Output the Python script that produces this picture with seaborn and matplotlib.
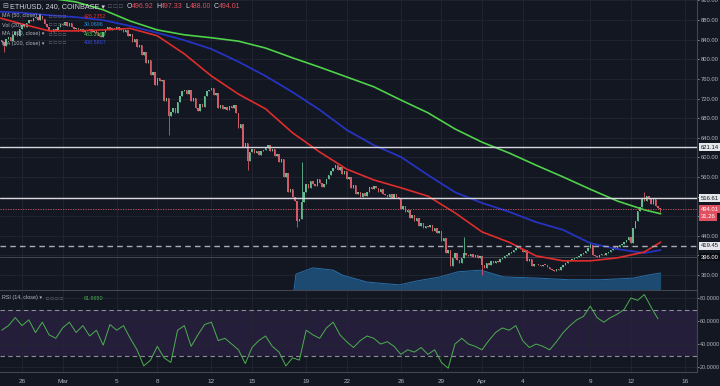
import numpy as np
import pandas as pd
import seaborn as sns
import matplotlib.pyplot as plt
from matplotlib.transforms import blended_transform_factory

# ---- data (4h candles, ETH/USD Coinbase) ----
first_open = 840
closes = [
    835, 828, 842,                                    # Feb 24 pm
    845, 838, 850, 855, 848, 862,                     # Feb 25
    870, 866, 875, 880, 878, 884,                     # Feb 26
    886, 880, 888, 882, 872, 866,                     # Feb 27
    860, 856, 862, 858, 866, 872,                     # Feb 28
    870, 876, 868, 874, 866, 862,                     # Mar 1
    864, 858, 862, 856, 860, 858,                     # Mar 2
    862, 856, 860, 854, 848, 845,                     # Mar 3
    855, 862, 866, 860, 864, 862,                     # Mar 4
    866, 860, 864, 856, 860, 848,                     # Mar 5
    852, 836, 842, 825, 830, 808,                     # Mar 6
    814, 792, 798, 768, 775, 748,                     # Mar 7
    762, 755, 758, 715, 722, 685,                     # Mar 8
    692, 700, 690, 712, 725, 735,                     # Mar 9
    738, 730, 738, 715, 722, 700,                     # Mar 10
    695, 708, 702, 725, 735, 738,                     # Mar 11
    742, 728, 732, 700, 706, 698,                     # Mar 12
    703, 696, 705, 700, 706, 690,                     # Mar 13
    660, 668, 622, 630, 592, 610,                     # Mar 14
    618, 608, 614, 604, 612, 615,                     # Mar 15
    620, 625, 612, 618, 602, 606,                     # Mar 16
    590, 596, 560, 568, 530, 536,                     # Mar 17
    520, 512, 470, 475, 510, 530,                     # Mar 18
    545, 538, 552, 546, 542, 555,                     # Mar 19
    548, 540, 545, 556, 565, 572,                     # Mar 20
    578, 585, 574, 580, 566, 572,                     # Mar 21
    556, 560, 538, 544, 525, 530,                     # Mar 22
    520, 528, 522, 530, 540, 536,                     # Mar 23
    542, 538, 530, 536, 526, 524,                     # Mar 24
    520, 526, 518, 525, 520, 516,                     # Mar 25
    495, 500, 488, 492, 476, 482,                     # Mar 26
    470, 476, 460, 466, 455, 460,                     # Mar 27
    458, 462, 450, 455, 446, 450,                     # Mar 28
    430, 436, 405, 412, 378, 395,                     # Mar 29
    405, 390, 385, 395, 405, 400,                     # Mar 30
    398, 402, 396, 400, 395, 398,                     # Mar 31
    380, 375, 385, 380, 388, 384,                     # Apr 1
    388, 386, 392, 395, 398, 400,                     # Apr 2
    404, 408, 412, 415, 418, 414,                     # Apr 3
    408, 412, 388, 392, 378, 382,                     # Apr 4
    382, 380, 378, 381, 380, 376,                     # Apr 5
    372, 370, 368, 372, 370, 376,                     # Apr 6
    380, 384, 388, 390, 392, 395,                     # Apr 7
    397, 398, 402, 405, 410, 415,                     # Apr 8
    422, 400, 398, 396, 400, 402,                     # Apr 9
    401, 405, 408, 412, 415, 414,                     # Apr 10
    418, 421, 424, 427, 432, 438,                     # Apr 11
    425, 455, 470, 490, 498, 515,                     # Apr 12
    512, 522, 516, 505, 515, 500,                     # Apr 13
    496.92, 494.01,                                   # Apr 14
]
# notable wicks: candle index -> (high, low)
wicks = {1: (835, 815), 74: (722, 646), 109: (630, 574), 131: (512, 458),
         133: (590, 475), 205: (438, 395), 213: (398, 360), 261: (428, 415),
         285: (529, 512), 292: (497.33, 488.00)}

# moving averages (day 0 = Feb 26)
ma_days = [-1.6, 0, 2, 4, 6, 8, 10, 12, 14, 16, 18, 20, 22, 24, 26, 28, 30,
           32, 34, 36, 38, 40, 42, 44, 46, 47.2]
ma50 = [884, 872, 858, 858, 860, 863, 848, 811, 766, 729, 699, 650, 611, 576,
        554, 538, 521, 487, 448, 427, 399, 389, 389, 395, 407, 427]
ma100 = [897, 895, 890, 886, 880, 868, 854, 839, 821, 795, 766, 733, 697, 656,
         625, 601, 564, 529, 507, 489, 468, 452, 425, 413, 405, 411]
ma200 = [960, 936, 925, 917, 901, 878, 860, 850, 844, 837, 823, 803, 784, 764,
         744, 717, 691, 658, 631, 609, 584, 560, 535, 511, 493, 485]

# volume MA(20) area
vol_days = [20.1, 20.25, 21.5, 23.0, 23.7, 25.5, 27.9, 29.2, 30.9, 32.2, 33.9,
            35.6, 38.1, 40.5, 42.7, 45.2, 46.2, 47.2]
vol_ma = [0, 28, 39, 35, 26, 14, 9, 16, 23, 32, 35, 23, 21, 18, 18, 21, 26, 30]

# RSI (14, close), read every 12h from Feb 24 12:00
rsi_vals = [52, 56, 63, 56, 61, 50, 59, 48, 45, 54, 59, 50, 56, 47, 52, 39,
            57, 52, 56, 45, 35, 21, 26, 38, 28, 24, 52, 56, 38, 48, 57, 59,
            43, 45, 40, 35, 23, 37, 43, 47, 38, 33, 21, 28, 26, 52, 48, 45,
            54, 59, 48, 42, 37, 43, 47, 45, 40, 42, 38, 31, 35, 33, 37, 31,
            35, 24, 19, 40, 45, 40, 38, 35, 43, 50, 54, 52, 56, 43, 37, 40,
            38, 35, 42, 50, 56, 61, 64, 73, 63, 59, 63, 66, 70, 80, 78, 83,
            72, 61.97]

tick_days = [0, 3, 7, 10, 14, 17, 21, 24, 28, 31, 34, 37, 42, 45, 49]
tick_labels = ['26', 'Mar', '5', '8', '12', '15', '19', '22', '26', '29',
               'Apr', '4', '9', '12', '16']

hlines = [(621.14, 'solid'), (516.61, 'solid'), (419.45, 'dashed'), (396.00, 'thin')]

# ---- style ----
BG = '#131722'
GRID = '#232632'
TXT = '#b2b5be'
UP = '#63bb8f'
DOWN = '#d35a67'
FS_AX = 4.2

sns.set_theme(style="dark")
plt.rcParams['font.family'] = ['Liberation Sans', 'DejaVu Sans']
plt.rcParams['axes.facecolor'] = BG
plt.rcParams['figure.facecolor'] = BG

fig = plt.figure(figsize=(7.2, 3.86), dpi=100)
ax = fig.add_axes([0, 1 - 290 / 386, 697 / 720, 290 / 386])
ax_rsi = fig.add_axes([0, 1 - 372 / 386, 697 / 720, 81 / 386], sharex=ax)

n = len(closes)
t = -1.5 + np.arange(n) / 6.0
c = np.array(closes, dtype=float)
o = np.concatenate([[first_open], c[:-1]])
hi = np.maximum(o, c)
lo = np.minimum(o, c)
for i, (h, l) in wicks.items():
    hi[i], lo[i] = h, l
col = np.where(c >= o, UP, DOWN)

# volume area on its own scale
ax_vol = ax.twinx()
ax_vol.fill_between(vol_days, 0, vol_ma, color='#1c4a70', lw=0)
ax_vol.plot(vol_days, vol_ma, color='#2a6fa8', lw=0.7)
ax_vol.set_ylim(0, 511)
ax_vol.set_yticks([])
ax_vol.set_facecolor(BG)
for s in ax_vol.spines.values():
    s.set_visible(False)
ax.set_zorder(ax_vol.get_zorder() + 1)
ax.patch.set_visible(False)

# grid
price_ticks = np.arange(360, 921, 40)
for p in price_ticks:
    ax_vol.axhline((p - 329.5) / (921 - 329.5) * 511, color=GRID, lw=0.6, zorder=0)
for d in tick_days:
    ax_vol.axvline(d, color=GRID, lw=0.6, zorder=0)

# candles
body = np.where(np.abs(c - o) < 1.2, 1.2, c - o)
ax.vlines(t, lo, hi, colors=col, lw=0.6, zorder=3)
ax.bar(t, body, bottom=o, width=0.11, color=col, lw=0, zorder=3)

# moving averages
ma_df = pd.DataFrame({'day': ma_days, 'ma50': ma50, 'ma100': ma100, 'ma200': ma200})
sns.lineplot(data=ma_df, x='day', y='ma200', ax=ax, color='#4fd14a', lw=1.2, zorder=4)
sns.lineplot(data=ma_df, x='day', y='ma100', ax=ax, color='#2533c0', lw=1.3, zorder=4)
sns.lineplot(data=ma_df, x='day', y='ma50', ax=ax, color='#df2d2b', lw=1.2, zorder=4)

# horizontal levels
for lvl, kind in hlines:
    if kind == 'solid':
        ax.axhline(lvl, color='#d6d8de', lw=1.0, zorder=5)
    elif kind == 'dashed':
        ax.axhline(lvl, color='#a9acb5', lw=1.0, ls=(0, (4, 3)), zorder=5)
    else:
        ax.axhline(lvl, color='#4a4d58', lw=0.6, zorder=2)
ax.axhline(c[-1], color=DOWN, lw=0.6, ls=(0, (1.5, 1.5)), zorder=5)

ax.set_ylim(329.5, 921)
ax.set_xlim(-22 / 13.53, 675 / 13.53)
ax.set_xlabel('')
ax.set_ylabel('')
ax.yaxis.tick_right()
ax.set_yticks(price_ticks)
ax.set_yticklabels(['' if p in (400, 480, 520) else f'{p:.2f}' for p in price_ticks])
ax.tick_params(axis='y', colors=TXT, labelsize=FS_AX, length=1.5, pad=1, width=0.5)
ax.tick_params(axis='x', length=0, labelbottom=False)
for name, s in ax.spines.items():
    s.set_visible(name in ('right', 'bottom'))
    s.set_color('#434651')
    s.set_linewidth(0.8)

# price boxes on the right axis
tr = blended_transform_factory(ax.transAxes, ax.transData)
boxes = [(621.14, '621.14', '#e6e7eb', '#131722'),
         (516.61, '516.61', '#e6e7eb', '#131722'),
         (c[-1], f'{c[-1]:.2f}', '#e0505f', 'white'),
         (478.4, '31.26', '#e0505f', 'white'),
         (419.45, '419.45', '#e6e7eb', '#131722'),
         (396.00, '396.00', '#0a0c12', 'white')]
for y, txt, fc, tc in boxes:
    ax.text(1.005, y, txt, transform=tr, fontsize=FS_AX, color=tc, va='center', ha='left',
            bbox=dict(boxstyle='square,pad=0.25', fc=fc, ec='none'), clip_on=False, zorder=10)

# RSI panel
rsi_t = -1.5 + np.arange(len(rsi_vals)) / 2.0
ax_rsi.axhspan(30, 70, color='#251e3a', lw=0, zorder=0)
for lvl in (20, 40, 60, 80):
    ax_rsi.axhline(lvl, color=GRID, lw=0.6, zorder=0)
for d in tick_days:
    ax_rsi.axvline(d, color=GRID, lw=0.6, zorder=0)
for lvl in (30, 70):
    ax_rsi.axhline(lvl, color='#8a8d96', lw=0.8, ls=(0, (4, 3)), zorder=1)
sns.lineplot(x=rsi_t, y=rsi_vals, ax=ax_rsi, color='#4caf50', lw=0.7, zorder=3)
ax_rsi.set_ylim(15.7, 86.1)
ax_rsi.yaxis.tick_right()
ax_rsi.set_yticks([20, 40, 60, 80])
ax_rsi.set_yticklabels(['20.0000', '40.0000', '60.0000', '80.0000'])
ax_rsi.set_xticks(tick_days)
ax_rsi.set_xticklabels(tick_labels)
ax_rsi.tick_params(axis='y', colors=TXT, labelsize=3.9, length=1.5, pad=0.8, width=0.5)
ax_rsi.tick_params(axis='x', colors=TXT, labelsize=4.6, length=0, pad=5)
ax_rsi.set_xlabel('')
ax_rsi.set_ylabel('')
for name, sp in ax_rsi.spines.items():
    sp.set_visible(name in ('right', 'bottom'))
    sp.set_color('#434651')
    sp.set_linewidth(0.8)

# legend texts (top-left)
def ftxt(x, y, txt, color=TXT, size=3.9):
    fig.text(x / 720, 1 - y / 386, txt, color=color, fontsize=size, va='center', ha='left')

ftxt(2, 7, '⊟', size=5)
ftxt(10, 7, 'ETH/USD, 240, COINBASE ▾', color='#d1d4dc', size=5.2)
ftxt(108, 7, '□ □ □', color='#6a6d78', size=4.5)
for x, lab, val in [(127, 'O', '496.92'), (156, 'H', '497.33'), (185, 'L', '488.00'), (214, 'C', '494.01')]:
    ftxt(x, 7, lab, color='#d1d4dc', size=5)
    ftxt(x + 5, 7, val, color='#e0505f', size=5)
legend_rows = [(16, 'MA (50, close) ▾', '426.2352', '#e0302e'),
               (25, 'Vol (20) ▾', '30.0696', '#2f8fd8'),
               (34, 'MA (200, close) ▾', '483.3969', '#4fd14a'),
               (43, 'MA (100, close) ▾', '408.5807', '#3a4ee0')]
for y, lab, val, vc in legend_rows:
    ftxt(2, y, lab)
    ftxt(49, y, '□ □ □ □', color='#6a6d78', size=3.8)
    ftxt(84, y, val, color=vc)
ftxt(2, 298, 'RSI (14, close) ▾')
ftxt(46, 298, '□ □ □ □', color='#6a6d78', size=3.8)
ftxt(84, 298, '61.9650', color='#4caf50')

fig.savefig('out.png', dpi=100, facecolor=BG)
